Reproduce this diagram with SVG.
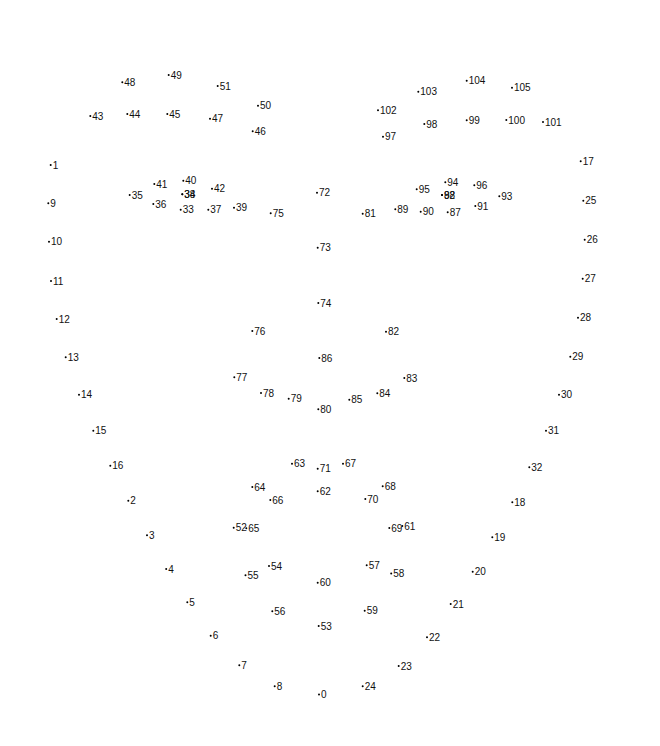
<svg xmlns="http://www.w3.org/2000/svg" width="660" height="746" viewBox="0 0 660 746">
<style>
.p circle{fill:#e0102a}
.p text{font-family:"Liberation Sans",Arial,sans-serif;font-size:10px;fill:#111}
</style>
<defs><circle id="d" r="1"/></defs>
<rect width="660" height="746" fill="#fff"/>
<g id="connectors"/>
<g class="p">
<g id="n0" transform="translate(319,694.5)"><use href="#d"/><text x="2" y="3.5">0</text></g>
<g id="n1" transform="translate(50.7,165)"><use href="#d"/><text x="2" y="3.5">1</text></g>
<g id="n2" transform="translate(128.3,500.7)"><use href="#d"/><text x="2" y="3.5">2</text></g>
<g id="n3" transform="translate(147,535.3)"><use href="#d"/><text x="2" y="3.5">3</text></g>
<g id="n4" transform="translate(166.2,569)"><use href="#d"/><text x="2" y="3.5">4</text></g>
<g id="n5" transform="translate(187.3,602.3)"><use href="#d"/><text x="2" y="3.5">5</text></g>
<g id="n6" transform="translate(210.7,635.7)"><use href="#d"/><text x="2" y="3.5">6</text></g>
<g id="n7" transform="translate(239.3,665.3)"><use href="#d"/><text x="2" y="3.5">7</text></g>
<g id="n8" transform="translate(274.7,686.3)"><use href="#d"/><text x="2" y="3.5">8</text></g>
<g id="n9" transform="translate(48.3,203.3)"><use href="#d"/><text x="2" y="3.5">9</text></g>
<g id="n10" transform="translate(49,241.7)"><use href="#d"/><text x="2" y="3.5">10</text></g>
<g id="n11" transform="translate(51,281)"><use href="#d"/><text x="2" y="3.5">11</text></g>
<g id="n12" transform="translate(56.7,319)"><use href="#d"/><text x="2" y="3.5">12</text></g>
<g id="n13" transform="translate(65.7,357.3)"><use href="#d"/><text x="2" y="3.5">13</text></g>
<g id="n14" transform="translate(79,394.7)"><use href="#d"/><text x="2" y="3.5">14</text></g>
<g id="n15" transform="translate(93.3,430.7)"><use href="#d"/><text x="2" y="3.5">15</text></g>
<g id="n16" transform="translate(110.3,465.7)"><use href="#d"/><text x="2" y="3.5">16</text></g>
<g id="n17" transform="translate(580.7,161.3)"><use href="#d"/><text x="2" y="3.5">17</text></g>
<g id="n18" transform="translate(512.3,502.3)"><use href="#d"/><text x="2" y="3.5">18</text></g>
<g id="n19" transform="translate(492.3,537.3)"><use href="#d"/><text x="2" y="3.5">19</text></g>
<g id="n20" transform="translate(472.7,571.7)"><use href="#d"/><text x="2" y="3.5">20</text></g>
<g id="n21" transform="translate(450.7,604)"><use href="#d"/><text x="2" y="3.5">21</text></g>
<g id="n22" transform="translate(427,637.3)"><use href="#d"/><text x="2" y="3.5">22</text></g>
<g id="n23" transform="translate(398.7,666)"><use href="#d"/><text x="2" y="3.5">23</text></g>
<g id="n24" transform="translate(362.7,686.3)"><use href="#d"/><text x="2" y="3.5">24</text></g>
<g id="n25" transform="translate(583.3,200.7)"><use href="#d"/><text x="2" y="3.5">25</text></g>
<g id="n26" transform="translate(584.7,239.7)"><use href="#d"/><text x="2" y="3.5">26</text></g>
<g id="n27" transform="translate(582.7,278.7)"><use href="#d"/><text x="2" y="3.5">27</text></g>
<g id="n28" transform="translate(578,317.7)"><use href="#d"/><text x="2" y="3.5">28</text></g>
<g id="n29" transform="translate(570.3,356.7)"><use href="#d"/><text x="2" y="3.5">29</text></g>
<g id="n30" transform="translate(559,394.7)"><use href="#d"/><text x="2" y="3.5">30</text></g>
<g id="n31" transform="translate(546,430.7)"><use href="#d"/><text x="2" y="3.5">31</text></g>
<g id="n32" transform="translate(529.3,467.3)"><use href="#d"/><text x="2" y="3.5">32</text></g>
<g id="n33" transform="translate(180.7,209.7)"><use href="#d"/><text x="2" y="3.5">33</text></g>
<g id="n34" transform="translate(182.3,194.3)"><use href="#d"/><text x="2" y="3.5">34</text></g>
<g id="n35" transform="translate(129.7,195)"><use href="#d"/><text x="2" y="3.5">35</text></g>
<g id="n36" transform="translate(153.3,204)"><use href="#d"/><text x="2" y="3.5">36</text></g>
<g id="n37" transform="translate(208.3,209.7)"><use href="#d"/><text x="2" y="3.5">37</text></g>
<g id="n38" transform="translate(182.3,194.3)"><use href="#d"/><text x="2" y="3.5">38</text></g>
<g id="n39" transform="translate(234,207.7)"><use href="#d"/><text x="2" y="3.5">39</text></g>
<g id="n40" transform="translate(183.3,180.7)"><use href="#d"/><text x="2" y="3.5">40</text></g>
<g id="n41" transform="translate(154.3,184)"><use href="#d"/><text x="2" y="3.5">41</text></g>
<g id="n42" transform="translate(212,188.7)"><use href="#d"/><text x="2" y="3.5">42</text></g>
<g id="n43" transform="translate(90.3,116)"><use href="#d"/><text x="2" y="3.5">43</text></g>
<g id="n44" transform="translate(127.3,114)"><use href="#d"/><text x="2" y="3.5">44</text></g>
<g id="n45" transform="translate(167.3,114)"><use href="#d"/><text x="2" y="3.5">45</text></g>
<g id="n46" transform="translate(252.7,131.3)"><use href="#d"/><text x="2" y="3.5">46</text></g>
<g id="n47" transform="translate(210,118.7)"><use href="#d"/><text x="2" y="3.5">47</text></g>
<g id="n48" transform="translate(122.3,82.3)"><use href="#d"/><text x="2" y="3.5">48</text></g>
<g id="n49" transform="translate(168.7,75)"><use href="#d"/><text x="2" y="3.5">49</text></g>
<g id="n50" transform="translate(258,105.7)"><use href="#d"/><text x="2" y="3.5">50</text></g>
<g id="n51" transform="translate(217.7,86)"><use href="#d"/><text x="2" y="3.5">51</text></g>
<g id="n52" transform="translate(233.7,527.7)"><use href="#d"/><text x="2" y="3.5">52</text></g>
<g id="n53" transform="translate(318.7,626)"><use href="#d"/><text x="2" y="3.5">53</text></g>
<g id="n54" transform="translate(269,566)"><use href="#d"/><text x="2" y="3.5">54</text></g>
<g id="n55" transform="translate(245.5,575.3)"><use href="#d"/><text x="2" y="3.5">55</text></g>
<g id="n56" transform="translate(272.3,611.3)"><use href="#d"/><text x="2" y="3.5">56</text></g>
<g id="n57" transform="translate(366.7,565.2)"><use href="#d"/><text x="2" y="3.5">57</text></g>
<g id="n58" transform="translate(391.2,573.5)"><use href="#d"/><text x="2" y="3.5">58</text></g>
<g id="n59" transform="translate(364.7,610.7)"><use href="#d"/><text x="2" y="3.5">59</text></g>
<g id="n60" transform="translate(317.7,582.7)"><use href="#d"/><text x="2" y="3.5">60</text></g>
<g id="n61" transform="translate(402.3,526)"><use href="#d"/><text x="2" y="3.5">61</text></g>
<g id="n62" transform="translate(317.7,491.3)"><use href="#d"/><text x="2" y="3.5">62</text></g>
<g id="n63" transform="translate(292,463.7)"><use href="#d"/><text x="2" y="3.5">63</text></g>
<g id="n64" transform="translate(252.3,487)"><use href="#d"/><text x="2" y="3.5">64</text></g>
<g id="n65" transform="translate(246.3,528.3)"><use href="#d"/><text x="2" y="3.5">65</text></g>
<g id="n66" transform="translate(270.3,500)"><use href="#d"/><text x="2" y="3.5">66</text></g>
<g id="n67" transform="translate(343,463.7)"><use href="#d"/><text x="2" y="3.5">67</text></g>
<g id="n68" transform="translate(382.7,486.3)"><use href="#d"/><text x="2" y="3.5">68</text></g>
<g id="n69" transform="translate(389.3,528)"><use href="#d"/><text x="2" y="3.5">69</text></g>
<g id="n70" transform="translate(365.3,499)"><use href="#d"/><text x="2" y="3.5">70</text></g>
<g id="n71" transform="translate(317.7,468.7)"><use href="#d"/><text x="2" y="3.5">71</text></g>
<g id="n72" transform="translate(317,192.7)"><use href="#d"/><text x="2" y="3.5">72</text></g>
<g id="n73" transform="translate(317.7,247.7)"><use href="#d"/><text x="2" y="3.5">73</text></g>
<g id="n74" transform="translate(318.3,303)"><use href="#d"/><text x="2" y="3.5">74</text></g>
<g id="n75" transform="translate(270.7,213.3)"><use href="#d"/><text x="2" y="3.5">75</text></g>
<g id="n76" transform="translate(252.3,331)"><use href="#d"/><text x="2" y="3.5">76</text></g>
<g id="n77" transform="translate(234.3,377.3)"><use href="#d"/><text x="2" y="3.5">77</text></g>
<g id="n78" transform="translate(261,393)"><use href="#d"/><text x="2" y="3.5">78</text></g>
<g id="n79" transform="translate(288.7,398.7)"><use href="#d"/><text x="2" y="3.5">79</text></g>
<g id="n80" transform="translate(318.3,409.3)"><use href="#d"/><text x="2" y="3.5">80</text></g>
<g id="n81" transform="translate(362.7,213.7)"><use href="#d"/><text x="2" y="3.5">81</text></g>
<g id="n82" transform="translate(386,331.7)"><use href="#d"/><text x="2" y="3.5">82</text></g>
<g id="n83" transform="translate(404.3,378)"><use href="#d"/><text x="2" y="3.5">83</text></g>
<g id="n84" transform="translate(377.3,393.3)"><use href="#d"/><text x="2" y="3.5">84</text></g>
<g id="n85" transform="translate(349.3,399.7)"><use href="#d"/><text x="2" y="3.5">85</text></g>
<g id="n86" transform="translate(319.3,358)"><use href="#d"/><text x="2" y="3.5">86</text></g>
<g id="n87" transform="translate(447.7,212.3)"><use href="#d"/><text x="2" y="3.5">87</text></g>
<g id="n88" transform="translate(442,195)"><use href="#d"/><text x="2" y="3.5">88</text></g>
<g id="n89" transform="translate(395.3,209.3)"><use href="#d"/><text x="2" y="3.5">89</text></g>
<g id="n90" transform="translate(420.7,211.7)"><use href="#d"/><text x="2" y="3.5">90</text></g>
<g id="n91" transform="translate(475.3,206)"><use href="#d"/><text x="2" y="3.5">91</text></g>
<g id="n92" transform="translate(442,195)"><use href="#d"/><text x="2" y="3.5">92</text></g>
<g id="n93" transform="translate(499.3,196.3)"><use href="#d"/><text x="2" y="3.5">93</text></g>
<g id="n94" transform="translate(445.3,182.3)"><use href="#d"/><text x="2" y="3.5">94</text></g>
<g id="n95" transform="translate(416.7,189.3)"><use href="#d"/><text x="2" y="3.5">95</text></g>
<g id="n96" transform="translate(474.3,185.3)"><use href="#d"/><text x="2" y="3.5">96</text></g>
<g id="n97" transform="translate(383,136.7)"><use href="#d"/><text x="2" y="3.5">97</text></g>
<g id="n98" transform="translate(424.3,124)"><use href="#d"/><text x="2" y="3.5">98</text></g>
<g id="n99" transform="translate(466.7,120.3)"><use href="#d"/><text x="2" y="3.5">99</text></g>
<g id="n100" transform="translate(506.3,120)"><use href="#d"/><text x="2" y="3.5">100</text></g>
<g id="n101" transform="translate(543,122)"><use href="#d"/><text x="2" y="3.5">101</text></g>
<g id="n102" transform="translate(378,110.3)"><use href="#d"/><text x="2" y="3.5">102</text></g>
<g id="n103" transform="translate(418.3,91.7)"><use href="#d"/><text x="2" y="3.5">103</text></g>
<g id="n104" transform="translate(466.7,80.7)"><use href="#d"/><text x="2" y="3.5">104</text></g>
<g id="n105" transform="translate(512,87.7)"><use href="#d"/><text x="2" y="3.5">105</text></g>
</g>
</svg>
